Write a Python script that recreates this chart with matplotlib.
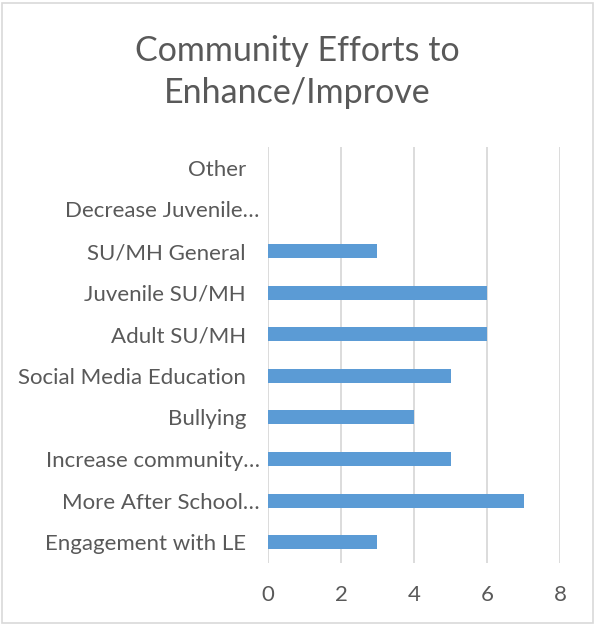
import matplotlib
matplotlib.use("Agg")
import matplotlib.pyplot as plt
from matplotlib.patches import Rectangle
from matplotlib.transforms import ScaledTranslation

plt.rcParams['font.family'] = ['Lato', 'DejaVu Sans']

categories = [
    "Engagement with LE ",
    "More After School\u2026",
    "Increase community\u2026",
    "Bullying ",
    "Social Media Education ",
    "Adult SU/MH ",
    "Juvenile SU/MH ",
    "SU/MH General ",
    "Decrease Juvenile\u2026",
    "Other ",
]
counts = [3, 7, 5, 4, 5, 6, 6, 3, 0, 0]
ticks = [0, 2, 4, 6, 8]

text_color = "#595959"
grid_color = "#D9D9D9"
bar_color = "#5B9BD5"

fig = plt.figure(figsize=(5.95, 6.25), dpi=100)
ax = fig.add_axes([0.4504, 0.0992, 0.4908, 0.6656])

ax.barh(range(len(categories)), counts, height=0.34, color=bar_color, zorder=3)
ax.set_yticks(range(len(categories)))
ax.set_yticklabels(categories)
ax.set_ylim(-0.5, len(categories) - 0.5)
ax.set_xlim(0, 8)
ax.set_xticks(ticks)

ax.grid(axis="x", color=grid_color, linewidth=1.3, zorder=0)
for s in ax.spines.values():
    s.set_visible(False)
ax.tick_params(axis="both", length=0, colors=text_color, labelsize=16)
ax.tick_params(axis="y", pad=6)
ax.tick_params(axis="x", pad=16)

# labels with a trailing blank sit further left than the truncated ones
for lbl in ax.get_yticklabels():
    if lbl.get_text().endswith(" "):
        lbl.set_transform(lbl.get_transform() + ScaledTranslation(-8 / 100, 0, fig.dpi_scale_trans))

fig.text(0.5, 0.885, "Community Efforts to\nEnhance/Improve", ha="center", va="center",
         fontsize=24.5, color=text_color, linespacing=1.4)

# light frame around the whole chart
fig.patches.append(Rectangle((0.004, 0.004), 0.992, 0.992, transform=fig.transFigure,
                             fill=False, edgecolor=grid_color, linewidth=1.2))

fig.savefig("out.png", dpi=100)
